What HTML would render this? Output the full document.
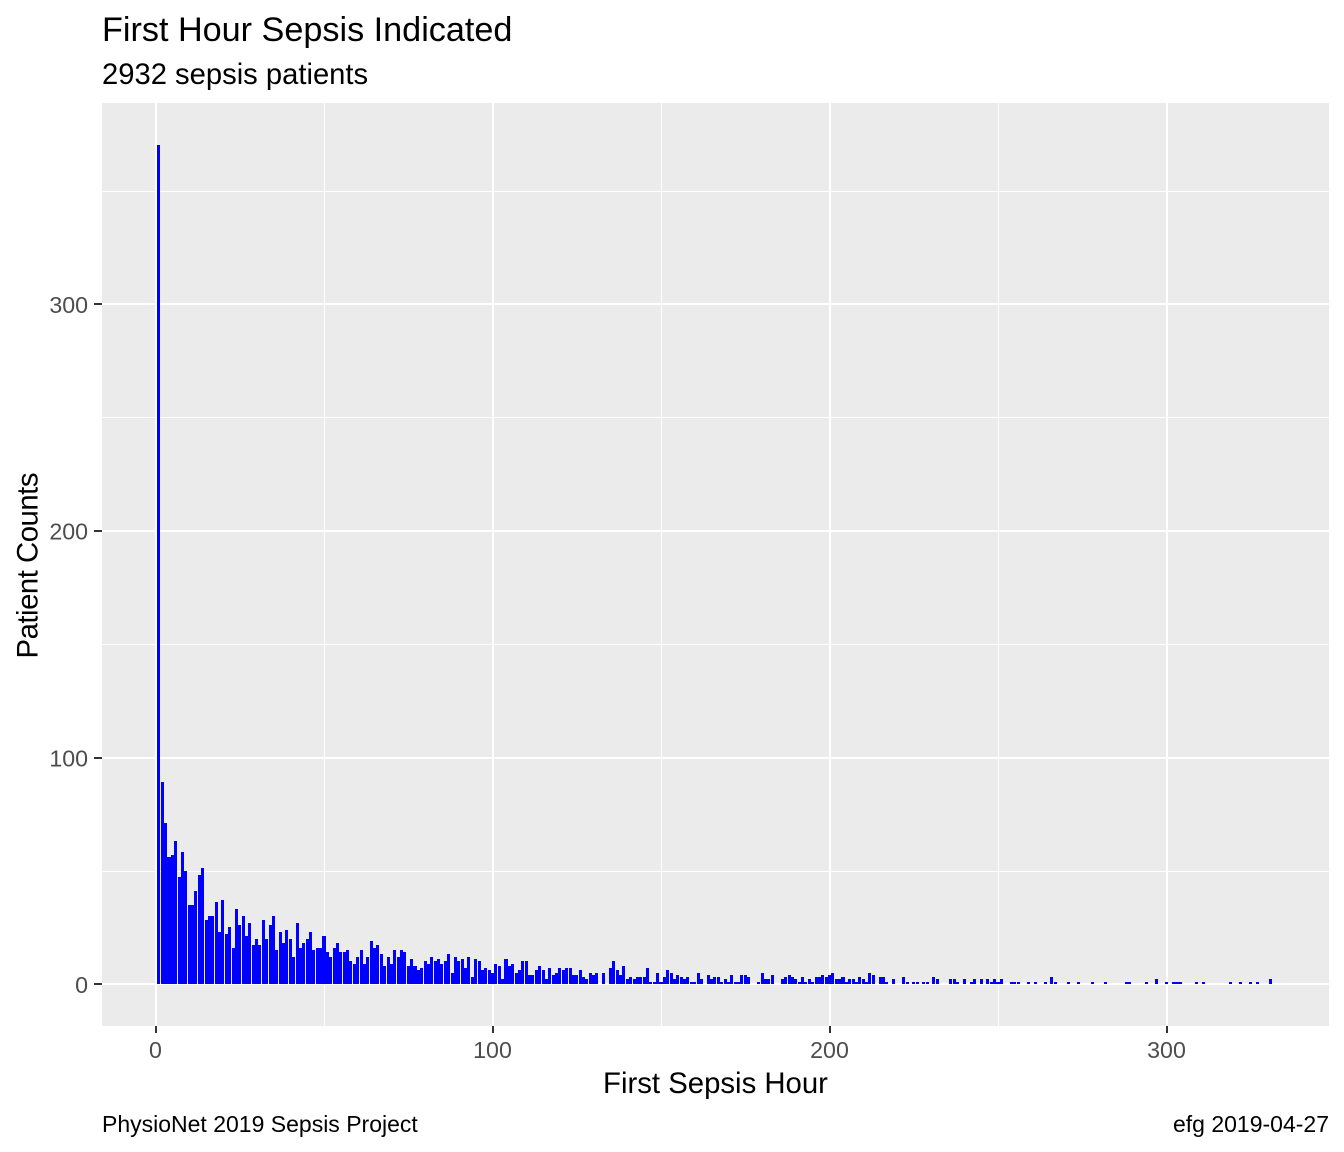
<!DOCTYPE html>
<html lang="en">
<head>
<meta charset="utf-8">
<title>First Hour Sepsis Indicated</title>
<style>
html,body{margin:0;padding:0;background:#fff;width:1344px;height:1152px;overflow:hidden}
svg{display:block;font-family:"Liberation Sans",Arial,sans-serif}
</style>
</head>
<body>
<svg id="chart" xmlns="http://www.w3.org/2000/svg" width="1344" height="1152" viewBox="0 0 1344 1152">
  <text x="102" y="41" font-size="34.2" fill="#000">First Hour Sepsis Indicated</text>
  <text x="102" y="84" font-size="29.2" fill="#000">2932 sepsis patients</text>
  <rect x="102" y="103" width="1227" height="923" fill="#ebebeb"/>
  <g id="grid" shape-rendering="crispEdges"></g>
  <g id="bars"></g>
  <g id="axes"></g>
  <text x="715.5" y="1093" font-size="29.33" text-anchor="middle" fill="#000">First Sepsis Hour</text>
  <text transform="translate(37.5 565.5) rotate(-90)" font-size="29.33" text-anchor="middle" textLength="186" fill="#000">Patient Counts</text>
  <text x="102" y="1132" font-size="23" fill="#000">PhysioNet 2019 Sepsis Project</text>
  <text x="1329" y="1132" font-size="23" text-anchor="end" fill="#000">efg 2019-04-27</text>
</svg>
<script>
const firstHour = 1;
const counts = [
370,89,71,56,57,63,47,58,50,35,
35,41,48,51,28,30,30,36,23,37,
22,25,16,33,26,30,21,27,17,20,
17,28,20,26,30,15,23,18,24,20,
12,27,16,18,20,23,15,16,16,21,
14,12,16,18,14,14,15,10,9,12,
15,9,12,19,16,17,13,8,12,9,
15,12,15,14,8,11,8,6,7,10,
9,12,10,11,9,10,13,5,12,10,
11,7,12,3,11,10,6,7,6,5,
9,8,2,11,8,9,5,6,10,10,
4,4,6,8,6,2,7,4,5,7,
6,7,7,4,4,6,3,2,5,4,
5,0,5,0,7,10,6,4,8,2,
3,2,3,3,3,7,1,1,5,1,
3,6,5,2,4,3,2,3,1,1,
5,2,0,4,2,3,3,1,2,1,
4,1,1,4,4,3,0,0,1,5,
2,2,4,0,0,2,3,4,3,2,
1,3,1,2,1,3,3,4,3,4,
5,2,2,3,1,2,2,1,3,2,
1,5,4,0,3,3,1,0,2,0,
0,3,1,0,1,1,0,1,1,0,
3,2,0,0,0,2,2,1,0,2,
0,1,2,0,2,0,2,1,2,1,
2,0,0,1,1,1,0,0,1,0,
1,0,0,1,0,3,1,0,0,0,
1,0,0,1,0,0,0,1,0,0,
0,1,0,0,0,0,0,1,1,0,
0,0,0,1,0,0,2,0,0,1,
0,1,1,1,0,0,0,0,1,0,
1,0,0,0,0,0,0,0,1,0,
0,1,0,0,1,0,1,0,0,0,
2
];
const xMajorTicks = [0,100,200,300];
const xMinorTicks = [50,150,250];
const yMajorTicks = [0,100,200,300];
const yMinorTicks = [50,150,250,350];

const NS = 'http://www.w3.org/2000/svg';
const panel = {left:102, right:1329, top:103, bottom:1026};
const barWidth = 0.9;
function xScale(v){ return 155.51 + v * 3.37; }
function yScale(v){ return 984.4 - v * 2.2665; }
function make(parent, tag, attrs){
  const el = document.createElementNS(NS, tag);
  for (const k in attrs) el.setAttribute(k, attrs[k]);
  parent.appendChild(el);
  return el;
}
const grid = document.getElementById('grid');
const barsG = document.getElementById('bars');
const axes = document.getElementById('axes');

yMinorTicks.forEach(function(v){
  const el = make(grid, 'rect', {x:panel.left, width:panel.right - panel.left, y:Math.floor(yScale(v)), height:1, fill:'#fff'});
  
  
});
xMinorTicks.forEach(function(v){
  const el = make(grid, 'rect', {x:Math.floor(xScale(v)), width:1, y:panel.top, height:panel.bottom - panel.top, fill:'#fff'});
  
  
});
yMajorTicks.forEach(function(v){
  const el = make(grid, 'rect', {x:panel.left, width:panel.right - panel.left, y:Math.round(yScale(v)) - 1, height:2, fill:'#fff'});
  
  
});
xMajorTicks.forEach(function(v){
  const el = make(grid, 'rect', {x:Math.round(xScale(v)) - 1, width:2, y:panel.top, height:panel.bottom - panel.top, fill:'#fff'});
  
  
});

counts.forEach(function(c, i){
  const hour = firstHour + i;
  const x0 = Math.round(xScale(hour - barWidth / 2));
  const x1 = Math.round(xScale(hour + barWidth / 2));
  const base = Math.floor(yScale(0));
  const top = Math.floor(yScale(c));
  const el = make(barsG, 'rect', {x:x0, y:top, width:x1 - x0, height:base - top, fill:'#0000ff', 'shape-rendering':'crispEdges'});
  
  
});

xMajorTicks.forEach(function(v){
  const tick = make(axes, 'rect', {x:Math.round(xScale(v)) - 1, width:2, y:panel.bottom, height:7, fill:'#333', 'shape-rendering':'crispEdges'});
  
  
  const t = make(axes, 'text', {x:xScale(v), y:1058, 'font-size':23.2, 'text-anchor':'middle', fill:'#4d4d4d'});
  t.textContent = String(v);
  
  
});
yMajorTicks.forEach(function(v){
  const tick = make(axes, 'rect', {x:panel.left - 8, width:8, y:Math.round(yScale(v)) - 1, height:2, fill:'#333', 'shape-rendering':'crispEdges'});
  
  
  const t = make(axes, 'text', {x:88, y:yScale(v) + 8.6, 'font-size':23.2, 'text-anchor':'end', fill:'#4d4d4d'});
  t.textContent = String(v);
  
  
});
</script>
</body>
</html>
